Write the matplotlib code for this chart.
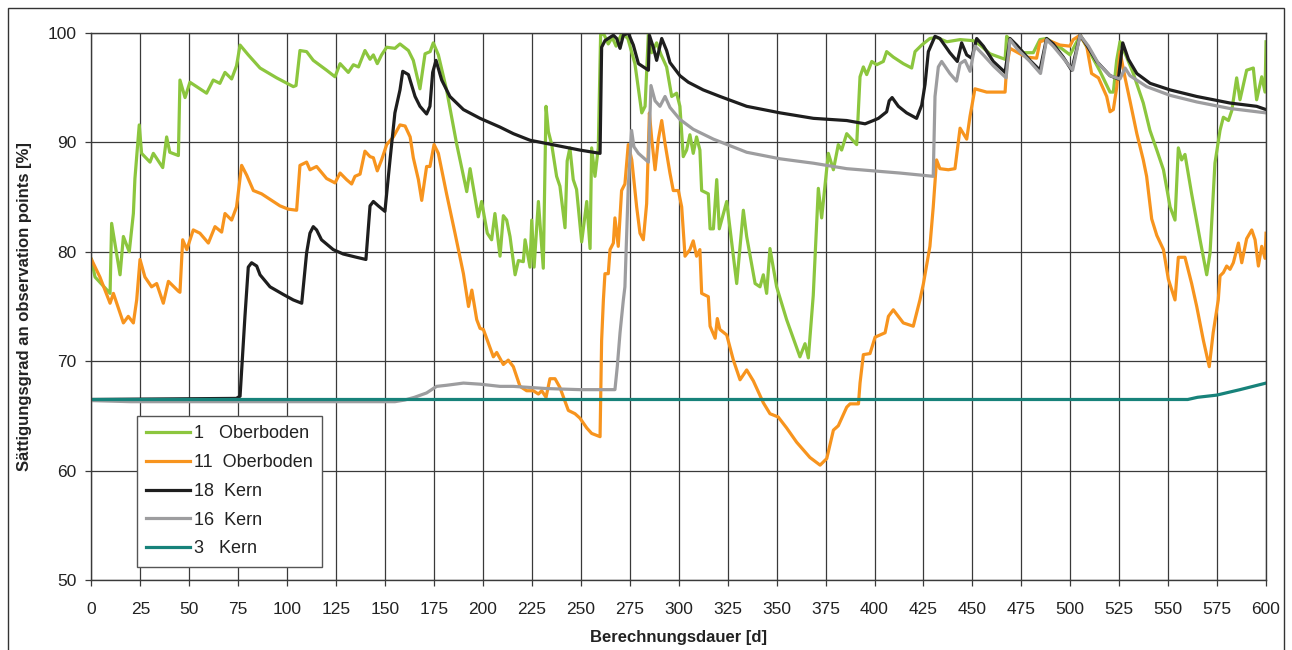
import matplotlib
matplotlib.use("Agg")
import matplotlib.pyplot as plt
from matplotlib.patches import Rectangle

plt.rcParams['font.family'] = ['Liberation Sans', 'DejaVu Sans']

# 1 Oberboden (green)
days_1 = [0, 1.8, 9.5, 10.3, 14.6, 16.3, 19.3, 21.4, 22.2, 24.4, 25.6, 29.9, 31.6, 36.4, 38.4, 40.0,
          44.4, 45.2, 47.8, 50.3, 55.4, 58.8, 62.2, 65.6, 68.2, 71.6, 74.1, 75.9, 80.1, 86.1, 94.6,
          103.1, 104.5, 106.5, 109.9, 113.3, 120.1, 124.4, 127.0, 131.2, 133.8, 136.4, 139.7, 142.3,
          144.0, 146.0, 148.2, 150.8, 155.0, 157.6, 161.9, 164.4, 167.8, 170.4, 173.0, 174.6, 177.2,
          181.4, 186.5, 191.7, 193.4, 197.6, 199.3, 202.2, 204.4, 206.1, 208.7, 210.4, 212.1, 213.8,
          216.4, 218.1, 220.6, 221.5, 224.0, 224.9, 226.1, 228.3, 230.8, 232.2, 233.4, 235.1, 237.6,
          239.3, 241.9, 243.0, 244.4, 246.1, 247.8, 250.4, 253.0, 254.7, 255.5, 257.2, 258.9, 260.1,
          262, 264, 266, 268, 271, 274, 277.6, 281.1, 282.8, 284.5, 286.1, 288.7, 291, 293.8, 296.4,
          298.9, 300.6, 302.3, 304.0, 305.7, 307.4, 309.1, 310.8, 311.7, 315.1, 316.0, 317.7, 319.4,
          320.7, 324.5, 329.6, 333.0, 334.7, 339.0, 341.5, 343.2, 344.9, 346.6, 350.0, 355.1, 361.9,
          364.5, 366.2, 368.7, 371.3, 373.0, 376.4, 379.0, 381.5, 383.2, 385.8, 390.9, 392.6, 394.3,
          396.0, 398.6, 401.1, 404.5, 406.2, 409.6, 414.7, 419.0, 420.7, 424.1, 428.3, 431.7, 437,
          443.7, 450.5, 453.9, 459.0, 466.7, 467.5, 470.9, 476.0, 481.1, 484.5, 487.9, 494.7, 499.9,
          505.0, 510.1, 515.2, 520.3, 522.0, 523.7, 525.4, 528.8, 532.2, 537.3, 540.7, 544.2, 547.6,
          551.0, 553.5, 555.2, 556.9, 558.6, 562.0, 566.3, 569.7, 571.4, 573.9, 576.5, 578.2, 580.8,
          582.5, 585.0, 586.7, 590.1, 593.5, 595.2, 597.8, 599.5, 600]
sat_1 = [79.3, 77.7, 76.2, 82.6, 77.9, 81.4, 80.0, 83.5, 86.7, 91.6, 89.0, 88.2, 89.0, 87.7, 90.5, 89.1,
         88.8, 95.7, 94.1, 95.5, 94.9, 94.5, 95.7, 95.4, 96.4, 95.8, 97.0, 98.9, 98.0, 96.8, 95.9,
         95.1, 95.2, 98.4, 98.3, 97.5, 96.6, 96.0, 97.2, 96.4, 97.1, 96.9, 98.4, 97.6,
         98.0, 97.2, 98.0, 98.7, 98.6, 99.0, 98.4, 97.5, 94.9, 98.1, 98.3, 99.1, 98.0,
         94.8, 89.9, 85.5, 87.6, 83.2, 84.6, 81.7, 81.1, 83.5, 79.6, 83.3, 82.9, 81.4,
         77.9, 79.2, 79.1, 81.1, 78.6, 82.9, 78.6, 84.6, 78.5, 93.3, 91.0, 89.8, 86.9,
         86.0, 82.2, 88.3, 89.5, 86.6, 85.7, 80.9, 84.6, 80.3, 89.5, 86.9, 89.5, 100,
         99.8, 99.0, 99.6, 98.8, 100, 99.5, 97.2, 92.7, 93.3, 100, 98.2, 99.1, 98.0, 96.9, 94.2,
         94.5, 93.3, 88.7, 89.3, 90.7, 89.0, 90.5, 89.3, 85.6, 85.3, 82.1, 82.1, 86.6,
         82.1, 84.6, 77.1, 83.8, 81.4, 77.1, 76.8, 77.9, 76.2, 80.3, 76.8, 73.8, 70.4,
         71.6, 70.3, 76.0, 85.8, 83.1, 89.0, 87.5, 89.8, 89.3, 90.8, 89.8, 96.0, 96.9,
         96.2, 97.4, 97.1, 97.4, 98.3, 97.8, 97.2, 96.8, 98.3, 98.9, 99.5, 99.6, 99.2,
         99.4, 99.3, 98.9, 98.1, 97.6, 99.7, 99.1, 98.2, 98.2, 99.4, 99.5, 98.7, 98.0,
         99.8, 98.2, 96.5, 94.6, 94.6, 97.5, 99.2, 97.8, 96.3, 93.6, 91.1, 89.3, 87.5,
         84.1, 82.9, 89.5, 88.4, 88.9, 85.3, 81.1, 77.9, 79.9, 88.1, 91.1, 92.3, 92.0,
         92.9, 95.9, 93.9, 96.6, 96.8, 93.9, 96.0, 94.6, 99.2]

# 11 Oberboden (orange)
days_11 = [0, 4.3, 9.5, 11.2, 16.3, 18.8, 21.4, 23.1, 24.8, 27.3, 30.7, 33.3, 36.7, 39.3, 44.4, 45.2,
           46.6, 48.7, 52.0, 55.4, 59.7, 63.1, 66.5, 68.2, 71.6, 74.1, 76.7, 79.3, 82.7, 86.9, 92.0,
           96.3, 100.5, 104.8, 106.5, 109.9, 111.6, 115.0, 120.1, 124.4, 127.0, 130.3, 132.9, 134.6,
           137.2, 139.7, 142.3, 144.0, 146.0, 148.2, 150.8, 154.2, 157.6, 160.2, 162.8, 164.4, 167.0,
           168.7, 171.2, 172.9, 175.0, 177.2, 181.4, 185.7, 190.0, 192.6, 194.3, 196.8, 198.5, 200.2,
           205.3, 207.0, 210.4, 212.9, 215.5, 218.9, 222.3, 225.7, 228.3, 230.0, 232.2, 234.2, 236.8,
           239.3, 243.6, 247.0, 249.5, 253.0, 255.5, 259.8, 260.6, 261.5, 262.3, 264.0, 264.9, 266.6,
           267.4, 269.1, 270.8, 272.5, 274.2, 276.0, 278.5, 280.2, 281.9, 283.6, 285.0, 286.2, 287.9,
           289.6, 291.3, 293.0, 295.5, 297.2, 299.8, 301.5, 303.2, 305.7, 307.4, 309.1, 310.8, 311.7,
           315.1, 316.0, 318.6, 319.7, 321.0, 324.5, 327.9, 331.3, 334.7, 338.1, 343.2, 346.6, 350.8,
           355.1, 360.2, 367.0, 372.2, 375.6, 379.0, 381.5, 385.8, 387.5, 391.8, 392.6, 394.3, 397.7,
           400.3, 405.4, 407.1, 409.6, 414.7, 419.8, 423.2, 425.0, 428.3, 430.0, 431.7, 433.4, 437.7,
           441.1, 443.7, 447.1, 448.8, 451.3, 457.3, 466.7, 467.5, 469.2, 474.3, 477.7, 482.8, 484.5,
           487.9, 494.7, 499.8, 501.5, 505.0, 508.4, 510.9, 514.4, 518.6, 520.3, 522.0, 523.7, 525.4,
           528.0, 530.5, 534.0, 537.3, 539.0, 541.6, 544.2, 547.6, 550.1, 553.5, 555.2, 558.6, 562.0,
           564.6, 568.0, 571.0, 573.0, 575.6, 576.5, 578.2, 579.9, 581.6, 583.3, 585.9, 587.6, 590.1,
           592.7, 594.4, 596.1, 597.8, 599.5, 600]
sat_11 = [79.3, 77.7, 75.3, 76.2, 73.5, 74.1, 73.5, 75.6, 79.3, 77.7, 76.8, 77.1, 75.3, 77.3, 76.4, 76.3,
          81.1, 80.2, 82.0, 81.7, 80.8, 82.3, 81.8, 83.5, 82.9, 84.1, 87.9, 87.0, 85.6, 85.3, 84.7,
          84.2, 83.9, 83.8, 87.9, 88.2, 87.5, 87.8, 86.7, 86.3, 87.2, 86.6, 86.2, 86.9,
          87.1, 89.2, 88.7, 88.6, 87.4, 88.4, 89.8, 90.5, 91.6, 91.5, 90.5, 88.6, 86.6,
          84.7, 87.8, 87.8, 89.8, 89.0, 85.3, 81.7, 78.0, 75.0, 76.5, 73.8, 73.0, 72.9,
          70.4, 70.8, 69.7, 70.1, 69.5, 67.7, 67.3, 67.3, 67.0, 67.3, 66.7, 68.4, 68.4,
          67.6, 65.5, 65.2, 64.8, 63.9, 63.4, 63.1, 71.9, 75.6, 78.0, 78.0, 80.2, 80.8,
          83.1, 80.5, 85.6, 86.2, 89.8, 88.4, 84.1, 81.7, 81.1, 84.4, 92.7, 90.3, 87.5,
          90.3, 92.0, 89.9, 87.2, 85.6, 85.6, 84.1, 79.6, 80.2, 81.0, 79.6, 80.2, 76.2,
          75.9, 73.2, 72.1, 73.9, 72.9, 72.4, 70.1, 68.3, 69.2, 68.2, 66.2, 65.2, 64.9,
          63.9, 62.6, 61.2, 60.5, 61.1, 63.7, 64.1, 65.8, 66.1, 66.1, 68.0, 70.6, 70.7,
          72.2, 72.6, 74.1, 74.7, 73.5, 73.2, 75.6, 77.1, 80.5, 84.1, 88.4, 87.6, 87.5,
          87.6, 91.3, 90.3, 92.4, 94.9, 94.6, 94.6, 96.9, 98.6, 98.1, 97.8, 97.7, 99.2,
          99.4, 98.9, 98.8, 99.4, 99.8, 98.8, 96.3, 95.9, 94.2, 92.8, 93.0, 95.0, 98.3,
          95.9, 93.8, 90.8, 88.4, 86.9, 83.0, 81.5, 80.2, 77.5, 75.6, 79.5, 79.5, 77.1,
          75.0, 71.9, 69.5, 72.6, 75.6, 77.8, 78.1, 78.7, 78.4, 79.0, 80.8, 79.0, 81.2,
          82.0, 81.1, 78.7, 80.5, 79.4, 81.7]

# 18 Kern (black)
days_18 = [0, 74, 75.9, 77, 78.4, 80.1, 81.8, 84.4, 86.1, 91.2, 98.0, 103.1, 107.4, 109.9, 111.6, 113.3,
           115.0, 117.5, 123.5, 128.6, 135.4, 140.2, 142.3, 144.0, 146.5, 149.9, 152.5, 155.0, 157.6,
           159.0, 161.9, 165.3, 167.8, 171.2, 172.9, 174.3, 176.0, 178.9, 183.1, 190.0, 198.5, 208.7,
           215.5, 224.0, 232.5, 241.0, 249.5, 259.8, 260.6, 262.3, 266.6, 268.3, 270.0, 271.7, 274.2,
           276.8, 279.4, 284.5, 285.0, 287.0, 288.7, 291.3, 293.8, 295.5, 300.6, 304.9, 312.5, 321.1,
           334.7, 351.8, 368.8, 385.8, 395.2, 399.4, 402.0, 406.2, 407.5, 409.0, 412.2, 416.4, 421.5,
           424.1, 425.8, 427.5, 430.9, 433.4, 438.5, 442.3, 444.5, 447.1, 449.6, 452.2, 455.6, 460.7,
           466.7, 469.2, 472.6, 479.4, 484.5, 487.9, 491.3, 496.4, 500.7, 505.0, 508.4, 513.5, 520.3,
           524.6, 526.8, 529.7, 534.0, 540.8, 551.0, 564.6, 581.6, 595.2, 600]
sat_18 = [66.5, 66.6, 66.8, 70, 74.1, 78.6, 79.0, 78.7, 77.9, 76.8, 76.1, 75.6, 75.3, 79.9, 81.7, 82.3,
          82.0, 81.1, 80.2, 79.8, 79.5, 79.3, 84.2, 84.6, 84.2, 83.7, 88.4, 92.7, 94.8,
          96.5, 96.2, 94.2, 93.3, 92.6, 93.3, 96.4, 97.5, 95.7, 94.2, 93.0, 92.2, 91.4,
          90.8, 90.2, 89.9, 89.6, 89.3, 89.0, 98.7, 99.3, 99.8, 99.5, 98.6, 99.8, 100,
          98.9, 97.2, 96.6, 99.8, 98.7, 97.5, 99.5, 98.4, 97.3, 96.1, 95.5, 94.8, 94.2,
          93.3, 92.7, 92.2, 92.0, 91.7, 92.0, 92.2, 92.8, 93.8, 94.1, 93.3, 92.7, 92.2,
          93.4, 95.3, 98.3, 99.7, 99.5, 98.2, 97.4, 99.1, 98.0, 97.7, 99.5, 98.8, 97.4,
          96.4, 99.5, 98.9, 97.5, 96.6, 99.5, 99.0, 97.8, 96.6, 99.8, 98.9, 97.4, 96.1,
          95.8, 99.1, 97.6, 96.3, 95.4, 94.8, 94.2, 93.6, 93.3, 93.0]

# 16 Kern (gray)
days_16 = [0, 20, 155, 160, 165, 171.2, 176.3, 181.4, 190, 198.5, 208.7, 215.5, 232.5, 249.5, 267.4,
           268.6, 270.0, 271.7, 272.5, 274.2, 275.9, 277.1, 279.4, 284.5, 285.8, 287.9, 290.4, 293.0,
           295.5, 300.6, 307.4, 317.7, 334.7, 351.8, 368.8, 385.8, 413, 430, 430.9, 432.6, 434.3,
           438.5, 441.9, 443.7, 446.2, 448.8, 451.3, 455.6, 460.7, 467.2, 469.2, 472.6, 479.4, 484.8,
           487.9, 491.3, 496.4, 501.2, 505.0, 509.3, 514.4, 520.3, 525.4, 528.0, 530.5, 539.0, 551.0,
           564.6, 581.6, 600]
sat_16 = [66.4, 66.3, 66.3, 66.45, 66.7, 67.1, 67.7, 67.8, 68.0, 67.9, 67.7, 67.7, 67.5, 67.4, 67.4,
          69.5, 72.6, 75.6, 76.8, 85.9, 91.1, 89.6, 89.0, 88.2, 95.2, 93.8, 93.3, 94.2,
          93.2, 92.1, 91.2, 90.3, 89.1, 88.5, 88.1, 87.6, 87.2, 86.9, 94.2, 96.9, 97.4,
          96.3, 95.6, 97.2, 97.5, 96.5, 98.8, 98.0, 97.0, 95.9, 99.4, 98.6, 97.4, 96.3,
          99.4, 98.8, 97.7, 96.6, 99.8, 98.8, 97.2, 96.1, 95.8, 96.8, 96.1, 95.1, 94.3,
          93.7, 93.1, 92.7]

# 3 Kern (teal)
days_3 = [0, 560, 565, 574.8, 586.7, 600]
sat_3 = [66.5, 66.5, 66.7, 66.9, 67.4, 68.0]

labels = ["1   Oberboden", "11  Oberboden", "18  Kern", "16  Kern", "3   Kern"]
colors = ["#8cc63e", "#f7941e", "#1e1e1e", "#9d9d9f", "#17827a"]

fig = plt.figure(figsize=(12.92, 6.5), dpi=100)
ax = fig.add_axes([0.0708, 0.1077, 0.9091, 0.8415])

series = [(days_1, sat_1), (days_11, sat_11), (days_18, sat_18), (days_16, sat_16), (days_3, sat_3)]
for (d, s), lab, c in zip(series, labels, colors):
    ax.plot(d, s, color=c, lw=2.3, label=lab, solid_joinstyle='round')

ax.set_xlim(0, 600)
ax.set_ylim(50, 100)
ax.set_xticks(range(0, 601, 25))
ax.set_yticks(range(50, 101, 10))
ax.grid(True, color='#3a3a3a', lw=0.9)
ax.set_axisbelow(True)
for sp in ax.spines.values():
    sp.set_color('#3a3a3a')
    sp.set_linewidth(1.0)
ax.tick_params(axis='x', direction='out', length=4.5, width=0.9, color='#3a3a3a', pad=11, labelsize=12.5, labelcolor='#222222')
ax.tick_params(axis='y', direction='out', length=4, width=0.9, color='#3a3a3a', pad=7, labelsize=12.5, labelcolor='#222222')

ax.set_xlabel("Berechnungsdauer [d]", fontsize=12, fontweight='bold', color='#222222', labelpad=10)
ax.set_ylabel("Sättigungsgrad an observation points [%]", fontsize=12, fontweight='bold', color='#222222', labelpad=11)

leg = ax.legend(loc='lower left', bbox_to_anchor=(0.0385, 0.0243), borderaxespad=0, fontsize=13,
                handlelength=2.45, labelspacing=0.65, fancybox=False, framealpha=1, edgecolor='#555555',
                borderpad=0.52, handletextpad=0.2)
leg.get_frame().set_linewidth(1.0)
for t in leg.get_texts():
    t.set_color('#222222')

# outer frame of the figure
fig.patches.append(Rectangle((8 / 1292, -0.1), (1284 - 8) / 1292, 1.1 - 8 / 650, transform=fig.transFigure,
                             fill=False, edgecolor='#333333', lw=1.0))

fig.savefig("out.png", dpi=100)
